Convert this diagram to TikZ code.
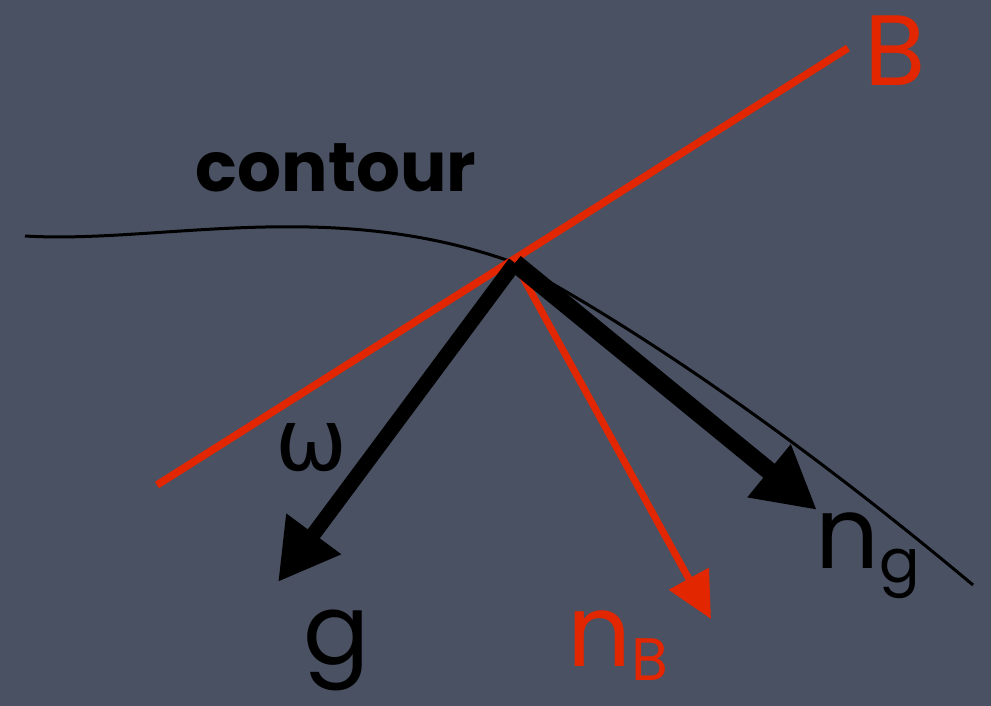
\documentclass[tikz,border=0pt]{standalone}
\usepackage{fontspec}
\setmainfont{Poppins}
\newfontfamily\greekfont{DejaVu Sans}
\usetikzlibrary{arrows.meta}
\definecolor{slate}{RGB}{74,81,98}
\definecolor{chalkred}{RGB}{226,38,0}

\begin{document}
\begin{tikzpicture}[
  x=1pt, y=-1pt,
  label/.style={inner sep=0pt, anchor=base},
  bline/.style={chalkred, line width=7.5pt},
  gvec/.style={line width=15pt, -{Triangle[length=60pt, width=64pt]}},
  nvec/.style={line width=18pt, -{Triangle[length=62pt, width=64pt]}},
  bvec/.style={chalkred, line width=7pt, -{Triangle[length=46pt, width=44pt]}}
]
\fill[slate] (0,0) rectangle (991,706);
\useasboundingbox (0,0) rectangle (991,706);

% points
\coordinate (apex) at (515,263);
\coordinate (bstart) at (157,485);
\coordinate (bend) at (848,48);
\coordinate (gtip) at (278,582);
\coordinate (ngtip) at (817,510);
\coordinate (nbtip) at (711,619);
\coordinate (cstart) at (25,236);
\coordinate (cend) at (973,585);

% contour and tangent line
\draw[line width=3pt] (cstart) .. controls (160,244) and (330,196) .. (apex)
  .. controls (640,330) and (800,440) .. (cend);
\draw[bline] (bstart) -- (bend);

% vectors
\draw[bvec] (apex) -- (nbtip);
\draw[nvec] (apex) -- (ngtip);
\draw[gvec] (apex) -- (gtip);

% labels
\node[label, font=\fontsize{69}{69}\selectfont\bfseries] (contour) at (336,192) {contour};
\node[label, font=\fontsize{86}{86}\selectfont\greekfont] (omega) at (312,470) {ω};
\node[label, font=\fontsize{98}{98}\selectfont] (g) at (337,664) {g};
\node[label, chalkred, font=\fontsize{100}{100}\selectfont] (B) at (895,86) {B};
\node[label, chalkred, font=\fontsize{100}{100}\selectfont] (nB) at (618,666) {n\raisebox{-14pt}{\fontsize{60}{60}\selectfont B}};
\node[label, font=\fontsize{100}{100}\selectfont] (ng) at (868,568) {n\raisebox{-14pt}{\fontsize{60}{60}\selectfont g}};
\end{tikzpicture}
\end{document}
